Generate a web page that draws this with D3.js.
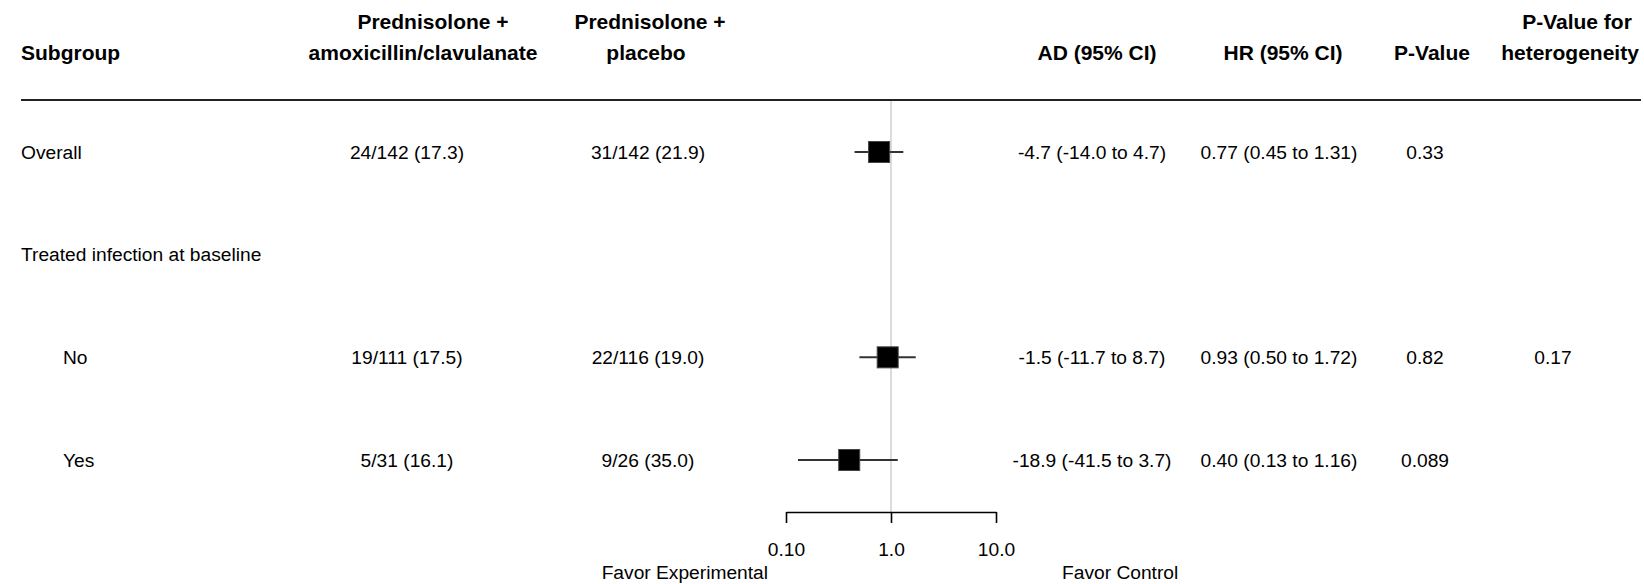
<!DOCTYPE html>
<head>
    <meta charset="utf-8">
    <script src="https://d3js.org/d3.v7.min.js"></script>
    <style>
        body { margin:0; background:#fff; }
        text { font-family: "Liberation Sans", Arial, sans-serif; fill: #000; }
        .head { font-size: 21px; font-weight: bold; }
        .cell { font-size: 19.2px; }
        .ci { stroke: #333; stroke-width: 2; }
        .box { fill: #000; stroke: #444; stroke-width: 1; }
        .ref { stroke: #cfcfcf; stroke-width: 1.5; }
        .rule { stroke: #222; stroke-width: 2; }
        .axis path, .axis line { stroke: #000; stroke-width: 1.6; }
        .axis text { font-family: "Liberation Sans", Arial, sans-serif; font-size: 19.2px; }
    </style>
</head>

<body>
<script>
    // table contents
    var subgroups = ["Overall", "Treated infection at baseline", "No", "Yes"];
    var level = [0, 0, 1, 1];
    var expCounts = ["24/142 (17.3)", "", "19/111 (17.5)", "5/31 (16.1)"];
    var ctlCounts = ["31/142 (21.9)", "", "22/116 (19.0)", "9/26 (35.0)"];
    var ad = [-4.7, null, -1.5, -18.9];
    var adLo = [-14.0, null, -11.7, -41.5];
    var adHi = [4.7, null, 8.7, 3.7];
    var hr = [0.77, null, 0.93, 0.40];
    var hrLo = [0.45, null, 0.50, 0.13];
    var hrHi = [1.31, null, 1.72, 1.16];
    var pValues = ["0.33", "", "0.82", "0.089"];
    var pHet = ["", "", "0.17", ""];

    var headers = [
        ["Subgroup"],
        ["Prednisolone +", "amoxicillin/clavulanate"],
        ["Prednisolone +", "placebo"],
        ["AD (95% CI)"],
        ["HR (95% CI)"],
        ["P-Value"],
        ["P-Value for", "heterogeneity"]
    ];
    var tickValues = [0.1, 1, 10];
    var tickLabels = ["0.10", "1.0", "10.0"];
    var favorLeft = "Favor Experimental";
    var favorRight = "Favor Control";

    var width = 1644;
    var height = 584;

    var svg = d3.select("body").append("svg")
        .attr("width", width)
        .attr("height", height);

    var x = d3.scaleLog().domain([0.1, 10]).range([786, 996]);
    var y = d3.scalePoint().domain(d3.range(subgroups.length)).range([152, 460]);

    var ruleY = 100, axisY = 512;
    var line1Y = 21, line2Y = 52;

    var fmtCI = (v, lo, hi, p) => v == null ? "" :
        v.toFixed(p) + " (" + lo.toFixed(p) + " to " + hi.toFixed(p) + ")";

    // columns: header x, data x, anchor, text per row
    var columns = [
        { hx: [21], dx: 21, anchor: "start", text: i => subgroups[i] },
        { hx: [433, 423], dx: 407, anchor: "middle", text: i => expCounts[i] },
        { hx: [650, 646], dx: 648, anchor: "middle", text: i => ctlCounts[i] },
        { hx: [1097], dx: 1092, anchor: "middle", text: i => fmtCI(ad[i], adLo[i], adHi[i], 1) },
        { hx: [1283], dx: 1279, anchor: "middle", text: i => fmtCI(hr[i], hrLo[i], hrHi[i], 2) },
        { hx: [1432], dx: 1425, anchor: "middle", text: i => pValues[i] },
        { hx: [1577, 1570], dx: 1553, anchor: "middle", text: i => pHet[i] }
    ];

    // headers (single-line headers sit on the second line)
    columns.forEach((c, k) => {
        var lines = headers[k];
        lines.forEach((t, j) => {
            var onSecond = lines.length == 1 || j == 1;
            svg.append("text")
                .attr("class", "head")
                .attr("x", c.hx[j] || c.hx[0])
                .attr("y", onSecond ? line2Y : line1Y)
                .attr("dominant-baseline", "central")
                .attr("text-anchor", c.anchor)
                .text(t);
        });
    });

    svg.append("line").attr("class", "rule")
        .attr("x1", 21).attr("x2", 1641)
        .attr("y1", ruleY).attr("y2", ruleY);

    // body cells
    columns.forEach((c, k) => {
        svg.append("g").selectAll("text")
            .data(d3.range(subgroups.length))
            .enter().append("text")
            .attr("class", "cell")
            .attr("x", i => k == 0 ? c.dx + level[i] * 42 : c.dx)
            .attr("y", i => y(i))
            .attr("dominant-baseline", "central")
            .attr("text-anchor", c.anchor)
            .text(i => c.text(i));
    });

    // reference line at HR = 1
    svg.append("line").attr("class", "ref")
        .attr("x1", x(1)).attr("x2", x(1))
        .attr("y1", ruleY + 1).attr("y2", axisY);

    var rows = d3.range(subgroups.length).filter(i => hr[i] != null);

    svg.append("g").selectAll("line")
        .data(rows)
        .enter().append("line")
        .attr("class", "ci")
        .attr("x1", i => x(hrLo[i]))
        .attr("x2", i => x(hrHi[i]))
        .attr("y1", i => y(i))
        .attr("y2", i => y(i));

    var box = 21;
    svg.append("g").selectAll("rect")
        .data(rows)
        .enter().append("rect")
        .attr("class", "box")
        .attr("x", i => x(hr[i]) - box / 2)
        .attr("y", i => y(i) - box / 2)
        .attr("width", box)
        .attr("height", box);

    // axis
    svg.append("g")
        .attr("class", "axis")
        .attr("transform", "translate(0," + axisY + ")")
        .call(d3.axisBottom(x)
            .tickValues(tickValues)
            .tickFormat((d, i) => tickLabels[i])
            .tickSize(11)
            .tickSizeOuter(0)
            .tickPadding(19))
        .call(g => g.selectAll("text").attr("fill", "#000"));

    svg.append("text").attr("class", "cell")
        .attr("x", 768).attr("y", 572)
        .attr("dominant-baseline", "central")
        .attr("text-anchor", "end")
        .text(favorLeft);

    svg.append("text").attr("class", "cell")
        .attr("x", 1062).attr("y", 572)
        .attr("dominant-baseline", "central")
        .attr("text-anchor", "start")
        .text(favorRight);
</script>
</body>
